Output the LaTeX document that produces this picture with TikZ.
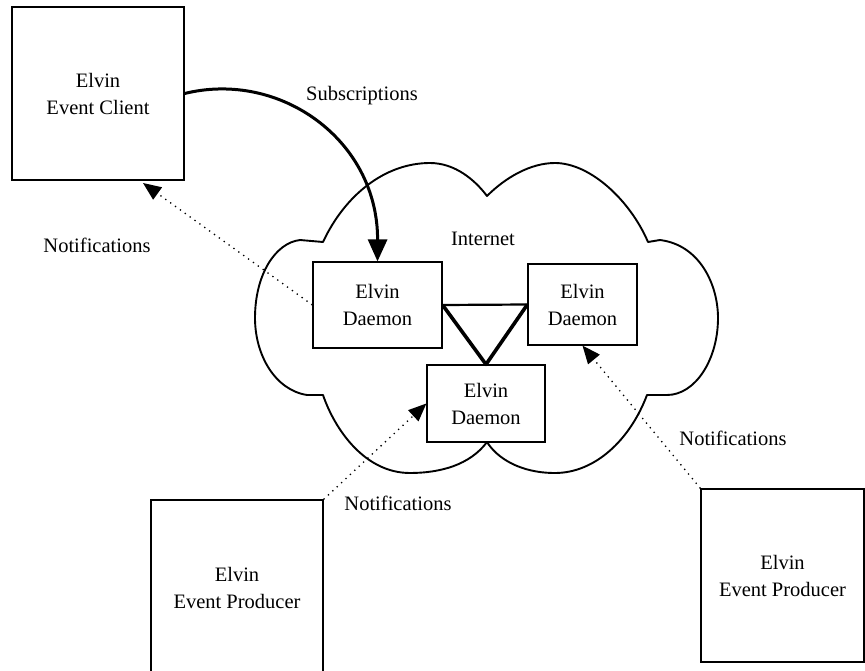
\documentclass[tikz,border=0pt]{standalone}
\usepackage{fontspec}
\setmainfont{Liberation Serif}
\usetikzlibrary{arrows.meta}
\begin{document}
\begin{tikzpicture}[x=1pt,y=-1pt,
  box/.style={draw,line width=1.2pt,fill=white,inner sep=0pt,align=center,font=\fontsize{20.5}{27}\selectfont},
  lbl/.style={inner sep=0pt,font=\fontsize{20.5}{27}\selectfont},
  notif/.style={line width=1.3pt,dash pattern=on 1.3pt off 4.7pt,-{Triangle[length=18pt,width=15pt]}},
  subs/.style={line width=3pt,-{Triangle[length=22pt,width=19pt]}},
  cloudline/.style={line width=1.9pt,line join=round},
  linkthin/.style={line width=2.2pt,line join=round},
  linkthick/.style={line width=3.6pt,line join=round}]
\useasboundingbox (0,0) rectangle (865,671);
\clip (0,0) rectangle (865,671);
% cloud
\draw[cloudline] (323,242)
  .. controls (345,195) and (385,163) .. (430,163)
  .. controls (455,163) and (475,180) .. (487,196)
  .. controls (505,178) and (530,163) .. (555,163)
  .. controls (590,163) and (630,200) .. (648,242)
  -- (660,240)
  .. controls (700,245) and (718,285) .. (718,318)
  .. controls (718,360) and (695,395) .. (667,395)
  -- (647,395)
  .. controls (630,440) and (595,473) .. (555,473)
  .. controls (520,473) and (497,458) .. (487,442)
  .. controls (470,465) and (440,473) .. (410,473)
  .. controls (365,473) and (335,430) .. (323,395)
  -- (307,395)
  .. controls (275,390) and (255,355) .. (255,318)
  .. controls (255,275) and (275,243) .. (300,240)
  -- cycle;
\node[lbl] (inet) at (483,239) {Internet};
% boxes
\node[box,minimum width=172pt,minimum height=173pt] (client) at (98,93.5) {Elvin\\Event Client};
\node[box,minimum width=129pt,minimum height=86pt] (d1) at (377.5,305) {Elvin\\Daemon};
\node[box,minimum width=109pt,minimum height=81pt] (d2) at (582.5,304.5) {Elvin\\Daemon};
\node[box,minimum width=118pt,minimum height=77pt] (d3) at (486,403.5) {Elvin\\Daemon};
\node[box,minimum width=172pt,minimum height=176pt] (prodL) at (237,588) {Elvin\\Event Producer};
\node[box,minimum width=163pt,minimum height=173pt] (prodR) at (782.5,575.5) {Elvin\\Event Producer};
% daemon links
\draw[linkthin] (d1.east) -- (d2.west);
\draw[linkthick] (d2.west) -- (d3.north) -- (d1.east);
% subscriptions
\draw[subs] (client.east) .. controls (280,70) and (378,140) .. (d1.north);
\node[lbl] (subl) at (362,96) {Subscriptions};
% notifications
\coordinate (cn) at (143,183);
\draw[notif] (d1.west) -- (cn);
\node[lbl] (n1) at (97,245) {Notifications};
\draw[notif] (prodL.north east) -- (d3.west);
\node[lbl] (n2) at (398,503) {Notifications};
\draw[notif] (prodR.north west) -- (d2.south);
\node[lbl] (n3) at (733,438) {Notifications};
\end{tikzpicture}
\end{document}
